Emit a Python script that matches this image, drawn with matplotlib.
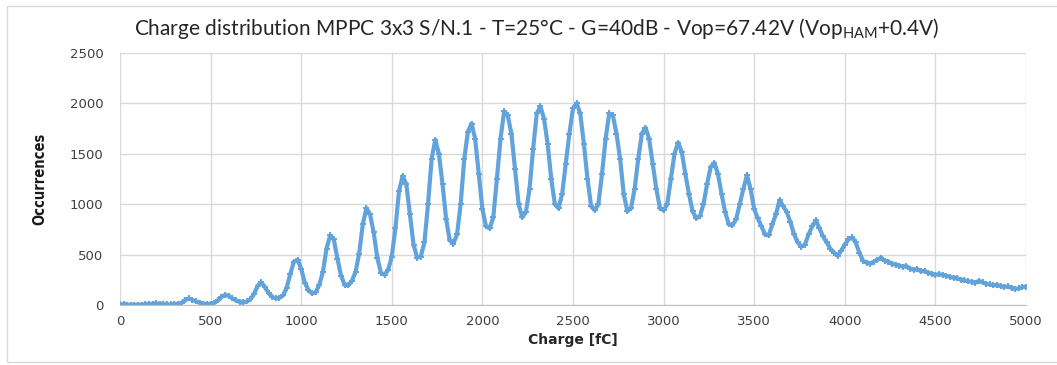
import matplotlib.pyplot as plt
from matplotlib.patches import Rectangle
import numpy as np

# charge bins [fC], step 20
charge = np.arange(0, 5001, 20)

# occurrences, one row per 500 fC
occ = [
    5, 8, 3, 2, 2, 3, 4, 6, 8, 12, 16, 12, 8, 6, 5, 8, 10, 22, 48, 65, 50, 35, 22, 14, 10,
    12, 20, 45, 80, 100, 90, 65, 45, 30, 25, 35, 55, 110, 190, 225, 175, 120, 80, 65, 70, 95, 170, 310, 430, 450,
    360, 220, 150, 115, 125, 200, 330, 560, 690, 650, 460, 290, 200, 195, 240, 330, 510, 800, 960, 900, 720, 470, 320, 300, 350,
    480, 760, 1130, 1280, 1200, 900, 600, 470, 480, 620, 1000, 1450, 1640, 1500, 1200, 850, 640, 610, 700, 1000, 1450, 1720, 1800, 1650, 1300,
    950, 780, 760, 870, 1250, 1650, 1920, 1880, 1700, 1350, 1000, 870, 920, 1150, 1550, 1900, 1970, 1850, 1600, 1250, 1000, 960, 1100, 1400, 1700,
    1950, 2000, 1900, 1600, 1250, 980, 940, 1000, 1300, 1650, 1900, 1880, 1700, 1450, 1100, 930, 960, 1150, 1450, 1700, 1760, 1650, 1400, 1150, 960,
    940, 1000, 1250, 1500, 1610, 1520, 1300, 1100, 930, 860, 880, 1000, 1200, 1370, 1410, 1300, 1100, 920, 800, 790, 850, 1000, 1150, 1290, 1150,
    950, 860, 780, 700, 690, 800, 900, 1040, 980, 920, 820, 700, 620, 580, 600, 700, 780, 840, 760, 680, 620, 560, 520, 490, 540,
    600, 650, 670, 620, 520, 440, 420, 410, 430, 450, 470, 440, 430, 410, 400, 390, 380, 385, 360, 350, 355, 335, 340, 320, 310,
    300, 305, 300, 290, 280, 270, 265, 250, 245, 235, 230, 220, 240, 225, 210, 205, 195, 200, 185, 180, 185, 170, 160, 165, 180, 180,
]
occ = occ[:len(charge)]

xticks = [0, 500, 1000, 1500, 2000, 2500, 3000, 3500, 4000, 4500, 5000]
yticks = [0, 500, 1000, 1500, 2000, 2500]

fig = plt.figure(figsize=(10.57, 3.65), dpi=100)
ax = fig.add_axes([0.1135, 0.1644, 0.8572, 0.6904])

ax.plot(charge, occ, color='#62a3db', lw=3, marker='+', ms=5, mew=1.4)

ax.set_xlim(0, 5000)
ax.set_ylim(0, 2500)
ax.set_xticks(xticks)
ax.set_yticks(yticks)
ax.grid(True, color='#d9d9d9', lw=1)
ax.set_axisbelow(True)
for s in ['top', 'right', 'left']:
    ax.spines[s].set_visible(False)
ax.spines['bottom'].set_color('#bfbfbf')
ax.tick_params(length=0, labelsize=9.5, labelcolor='#404040')
ax.tick_params(axis='y', pad=12)
ax.tick_params(axis='x', pad=7)

ax.set_xlabel('Charge [fC]', fontsize=10, fontweight='bold', color='#262626', labelpad=4)
ax.set_ylabel('Occurrences', fontsize=10.5, fontweight='bold', fontstretch='condensed',
              color='#1a1a1a', family=['DejaVu Sans'], labelpad=16)

fig.text(0.508, 0.922, 'Charge distribution MPPC 3x3 S/N.1 - T=25°C - G=40dB - Vop=67.42V (Vop$_{\\mathregular{HAM}}$+0.4V)',
         ha='center', va='center', fontsize=15, color='#262626', family=['Lato', 'DejaVu Sans'])

# outer chart frame
fig.patches.append(Rectangle((0.007, 0.008), 0.995, 0.976, transform=fig.transFigure,
                             fill=False, edgecolor='#d9d9d9', lw=1))

fig.savefig('out.png', dpi=100)
